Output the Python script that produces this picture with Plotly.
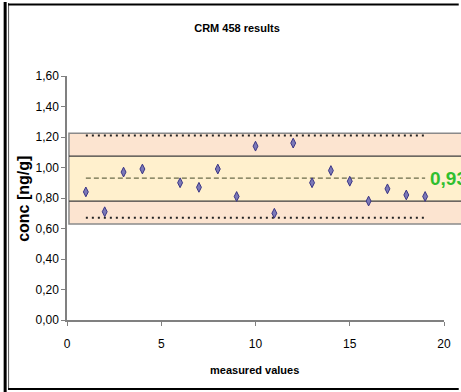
import plotly.graph_objects as go

# data
meas_x = [1, 2, 3, 4, 6, 7, 8, 9, 10, 11, 12, 13, 14, 15, 16, 17, 18, 19]
meas_y = [0.84, 0.71, 0.97, 0.99, 0.90, 0.87, 0.99, 0.81, 1.14, 0.70, 1.16, 0.90, 0.98, 0.91, 0.78, 0.86, 0.82, 0.81]
certified = 0.93
inner_limits = [0.78, 1.075]
outer_limits = [0.67, 1.21]
band_limits = [0.63, 1.225]
line_x = [1, 19]
x_ticks = [0, 5, 10, 15, 20]
y_ticks = [0.0, 0.2, 0.4, 0.6, 0.8, 1.0, 1.2, 1.4, 1.6]

FONT = "Liberation Sans, Arial, sans-serif"
W, H = 461, 392
L, R, T, B = 67, 10, 76, 72
pw, ph = W - L - R, H - T - B

def px(x):
    return (x - L) / pw

def py(y):
    return (H - B - y) / ph

fig = go.Figure()

# certified value line (dashed)
fig.add_trace(go.Scatter(x=line_x, y=[certified, certified], mode="lines",
                         line=dict(color="#6b6b4a", width=1.2, dash="5px,3px"),
                         hoverinfo="skip", showlegend=False))
# outer dotted limits
for v in outer_limits:
    fig.add_trace(go.Scatter(x=line_x, y=[v, v], mode="lines",
                             line=dict(color="#222222", width=2, dash="2px,4px"),
                             hoverinfo="skip", showlegend=False))
# measured values
fig.add_trace(go.Scatter(x=meas_x, y=meas_y, mode="markers",
                         marker=dict(symbol="diamond-tall", size=7, color="#7b78b8",
                                     line=dict(color="#3a3585", width=1)),
                         showlegend=False))

shapes = []
# band
shapes.append(dict(type="rect", xref="paper", yref="y", x0=px(69), x1=px(W + 20),
                   y0=band_limits[0], y1=band_limits[1], fillcolor="#fce4d0",
                   line=dict(color="#8a8a8a", width=1.5), layer="below"))
shapes.append(dict(type="rect", xref="paper", yref="y", x0=px(69.8), x1=px(W + 20),
                   y0=inner_limits[0], y1=inner_limits[1], fillcolor="#fff0cd",
                   line=dict(width=0), layer="below"))
for v in inner_limits:
    shapes.append(dict(type="line", xref="paper", yref="y", x0=px(69), x1=px(W + 20),
                       y0=v, y1=v, line=dict(color="#3c3c3c", width=1.3), layer="below"))
# frame
shapes.append(dict(type="line", xref="paper", yref="paper", x0=px(4), x1=px(4),
                   y0=py(2), y1=py(H), line=dict(color="#000000", width=3)))
shapes.append(dict(type="line", xref="paper", yref="paper", x0=px(7.5), x1=px(7.5),
                   y0=py(3), y1=py(390), line=dict(color="#555555", width=1)))
shapes.append(dict(type="line", xref="paper", yref="paper", x0=px(7), x1=px(W + 5),
                   y0=py(4.5), y1=py(4.5), line=dict(color="#000000", width=2)))
shapes.append(dict(type="line", xref="paper", yref="paper", x0=px(7), x1=px(W + 5),
                   y0=py(389), y1=py(389), line=dict(color="#000000", width=2)))

annotations = [
    dict(x=line_x[1], y=certified, xref="x", yref="y", text="<b>" + f"{certified:.2f}".replace(".", ",") + "</b>",
         showarrow=False, xanchor="left", yanchor="middle", xshift=3,
         font=dict(family=FONT, size=19, color="#2fbf2f")),
    dict(x=px(22), y=py(244), xref="paper", yref="paper", text="<b>conc [ng/g]</b>",
         textangle=-90, showarrow=False, xanchor="center", yanchor="bottom",
         font=dict(family=FONT, size=16, color="#000000")),
    dict(x=px(258), y=py(370), xref="paper", yref="paper", text="<b>measured values</b>",
         showarrow=False, xanchor="center", yanchor="middle",
         font=dict(family=FONT, size=11, color="#000000")),
]

fig.update_layout(
    width=W, height=H,
    margin=dict(l=L, r=R, t=T, b=B, pad=0),
    paper_bgcolor="white", plot_bgcolor="white",
    separators=",.",
    title=dict(text="<b>CRM 458 results</b>", x=237 / W, xanchor="center",
               y=1 - 28 / H, yanchor="middle",
               font=dict(family=FONT, size=11, color="#000000")),
    shapes=shapes, annotations=annotations,
    xaxis=dict(range=[0, 20], tickvals=x_ticks, ticks="outside", ticklen=4,
               tickcolor="#808080", showline=True, linecolor="#808080", linewidth=1.5,
               showgrid=False, zeroline=False, ticklabelstandoff=8,
               tickfont=dict(family=FONT, size=12, color="#000000")),
    yaxis=dict(range=[0, 1.6], tickvals=y_ticks, tickformat=".2f", ticks="outside",
               ticklen=4, tickcolor="#808080", showline=True, linecolor="#808080",
               linewidth=1.5, showgrid=False, zeroline=False,
               tickfont=dict(family=FONT, size=12, color="#000000")),
)

fig.write_html("out.html", config={"displayModeBar": False},
               post_script="document.body.style.margin='0';")
